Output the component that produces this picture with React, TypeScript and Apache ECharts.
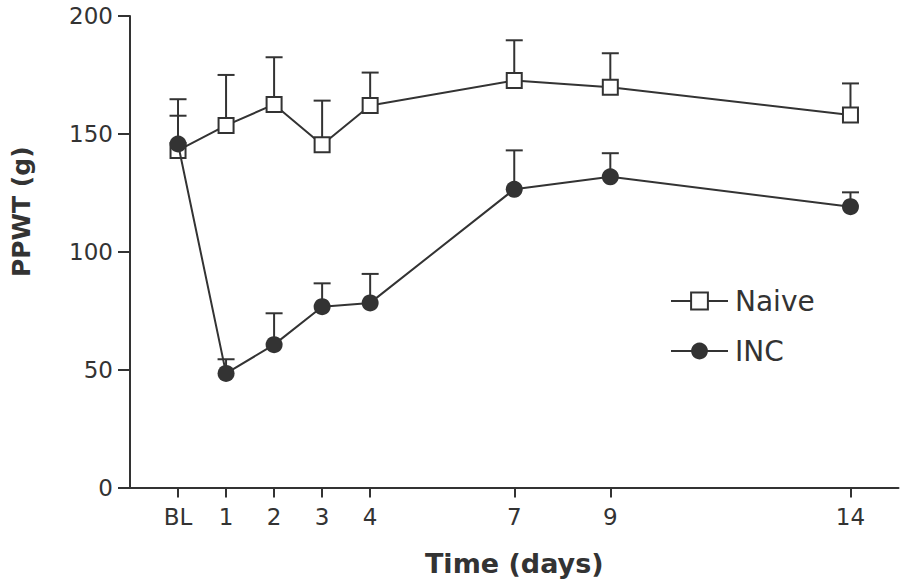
import React, { useEffect, useRef } from "react";
import * as echarts from "echarts";

const days = [0, 1, 2, 3, 4, 7, 9, 14];
const naiveMean = [143, 153.6, 162.5, 145.4, 162, 172.6, 169.8, 158];
const naiveSem = [21.7, 21.4, 20, 18.7, 14, 17.1, 14.4, 13.4];
const incMean = [145.7, 48.4, 60.6, 76.7, 78.3, 126.5, 131.8, 119.1];
const incSem = [12, 6, 13.3, 9.9, 12.3, 16.5, 10, 6.1];
const yTicks = [0, 50, 100, 150, 200];

const INK = "#333333";
const FONT = "DejaVu Sans";

function errRender(params: any, api: any) {
  const x = api.value(0);
  const y = api.value(1);
  const top = api.value(2);
  const p0 = api.coord([x, y]);
  const p1 = api.coord([x, top]);
  const half = 8.5;
  const style = { stroke: INK, lineWidth: 2 };
  return {
    type: "group",
    children: [
      { type: "line", shape: { x1: p0[0], y1: p0[1], x2: p1[0], y2: p1[1] }, style },
      { type: "line", shape: { x1: p1[0] - half, y1: p1[1], x2: p1[0] + half, y2: p1[1] }, style },
    ],
  };
}

export default function App() {
  const ref = useRef<HTMLDivElement>(null);
  useEffect(() => {
    if (!ref.current) return;
    const chart = echarts.init(ref.current, null, { renderer: "svg" });
    chart.setOption({
      animation: false,
      backgroundColor: "#ffffff",
      textStyle: { fontFamily: FONT, color: INK },
      grid: { left: 130, right: 1.5, top: 16, bottom: 97.5, containLabel: false },
      legend: {
        orient: "vertical",
        left: 665,
        top: 282,
        itemWidth: 57,
        itemHeight: 21,
        itemGap: 22,
        data: ["Naive", "INC"],
        textStyle: { fontSize: 28, color: INK, fontFamily: FONT, padding: [0, 0, 0, 2] },
      },
      xAxis: {
        type: "value",
        min: -1,
        max: 15,
        name: "Time (days)",
        nameLocation: "middle",
        nameGap: 62,
        nameTextStyle: { fontSize: 27, fontWeight: "bold", color: INK, fontFamily: FONT },
        axisLine: { onZero: false, lineStyle: { color: INK, width: 2 } },
        axisTick: { show: true, length: 10, lineStyle: { color: INK, width: 2 }, customValues: days },
        axisLabel: {
          fontSize: 23,
          color: INK,
          margin: 18,
          customValues: days,
          formatter: (v: number) => (v === 0 ? "BL" : String(v)),
        },
        splitLine: { show: false },
      },
      yAxis: {
        type: "value",
        min: 0,
        max: 200,
        interval: 50,
        name: "PPWT (g)",
        nameLocation: "middle",
        nameGap: 96,
        nameTextStyle: { fontSize: 25, fontWeight: "bold", color: INK, fontFamily: FONT, padding: [0, 0, 0, 80] },
        axisLine: { onZero: false, lineStyle: { color: INK, width: 2 } },
        axisTick: { show: true, length: 12, lineStyle: { color: INK, width: 2 }, customValues: yTicks },
        axisLabel: { fontSize: 23, color: INK, margin: 17, customValues: yTicks },
        splitLine: { show: false },
      },
      series: [
        {
          name: "NaiveErr",
          type: "custom",
          renderItem: errRender,
          data: days.map((d, i) => [d, naiveMean[i], naiveMean[i] + naiveSem[i]]),
          z: 1,
          silent: true,
        },
        {
          name: "INCErr",
          type: "custom",
          renderItem: errRender,
          data: days.map((d, i) => [d, incMean[i], incMean[i] + incSem[i]]),
          z: 1,
          silent: true,
        },
        {
          name: "Naive",
          type: "line",
          data: days.map((d, i) => [d, naiveMean[i]]),
          symbol: "rect",
          symbolSize: 15,
          showAllSymbol: true,
          itemStyle: { color: "#ffffff", borderColor: INK, borderWidth: 2 },
          lineStyle: { color: INK, width: 2 },
          z: 3,
        },
        {
          name: "INC",
          type: "line",
          data: days.map((d, i) => [d, incMean[i]]),
          symbol: "circle",
          symbolSize: 17,
          showAllSymbol: true,
          itemStyle: { color: INK, borderColor: INK, borderWidth: 0 },
          lineStyle: { color: INK, width: 2 },
          z: 4,
        },
      ],
    });
    return () => chart.dispose();
  }, []);
  return (
    <div
      ref={ref}
      style={{ position: "absolute", left: 0, top: 0, width: 900, height: 585, background: "#fff" }}
    />
  );
}
